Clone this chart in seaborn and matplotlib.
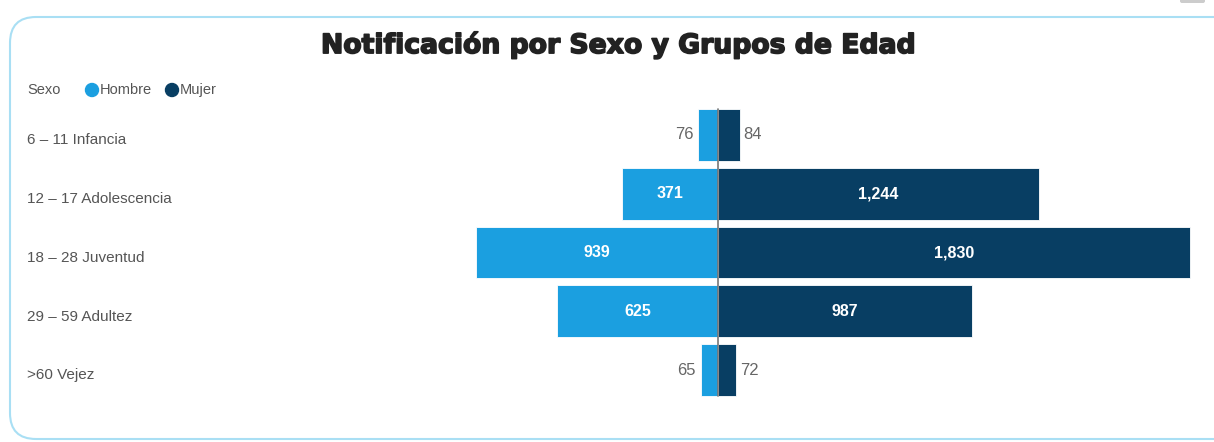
import numpy as np
import matplotlib
matplotlib.use('Agg')
import matplotlib.pyplot as plt
import matplotlib.patches as mpatches
import matplotlib.transforms as mtransforms
import matplotlib.patheffects as pe
import seaborn as sns
import pandas as pd

grupos = ['6 – 11 Infancia', '12 – 17 Adolescencia', '18 – 28 Juventud',
          '29 – 59 Adultez', '>60 Vejez']
hombre = [76, 371, 939, 625, 65]
mujer = [84, 1244, 1830, 987, 72]

c_hombre = '#1b9fe0'
c_mujer = '#083e63'

sns.set_style('white')
plt.rcParams['font.family'] = ['Liberation Sans', 'DejaVu Sans']

df = pd.DataFrame({'grupo': grupos, 'hombre': hombre, 'mujer': mujer})
df['hombre_neg'] = -df['hombre']

fig = plt.figure(figsize=(12.14, 4.42), dpi=100)
ax = fig.add_axes([0.3896, 0.0962, 0.5947, 0.665])

sns.barplot(data=df, x='hombre_neg', y='grupo', color=c_hombre, orient='h',
            width=0.88, ax=ax, edgecolor='white', linewidth=0.6, saturation=1)
sns.barplot(data=df, x='mujer', y='grupo', color=c_mujer, orient='h',
            width=0.88, ax=ax, edgecolor='white', linewidth=0.6, saturation=1)

ax.set_xlim(-950, 1850)
ax.set_ylim(4.5, -0.5)
ax.axvline(0, ymin=(4.5 - 4.44) / 5, ymax=(4.5 + 0.44) / 5, color='#777777', lw=1.2)
ax.axis('off')

# value labels
for i, (h, m) in enumerate(zip(hombre, mujer)):
    if h > 200:
        ax.text(-h / 2, i, f'{h:,}', ha='center', va='center', color='white',
                fontsize=11.5, fontweight='bold')
    else:
        ax.text(-h - 20, i, f'{h:,}', ha='right', va='center', color='#666666',
                fontsize=12)
    if m > 200:
        ax.text(m / 2, i, f'{m:,}', ha='center', va='center', color='white',
                fontsize=11.5, fontweight='bold')
    else:
        ax.text(m + 15, i, f'{m:,}', ha='left', va='center', color='#666666',
                fontsize=12)

# category labels on the left
trans = mtransforms.blended_transform_factory(fig.transFigure, ax.transData)
for i, g in enumerate(grupos):
    ax.text(0.0222, i + 0.09, g, transform=trans, ha='left', va='center',
            color='#555555', fontsize=11)

# title
fig.text(0.509, 0.898, 'Notificación por Sexo y Grupos de Edad', ha='center',
         va='center', fontsize=19.2, fontweight='heavy', color='#222222',
         family='DejaVu Sans',
         path_effects=[pe.withStroke(linewidth=1.2, foreground='#222222')])

# legend
fig.text(0.0222, 0.796, 'Sexo', ha='left', va='center', color='#555555', fontsize=10.5)
fig.patches.append(mpatches.Ellipse((92 / 1214, 1 - 90 / 442), 13 / 1214, 13 / 442,
                                    transform=fig.transFigure, color=c_hombre))
fig.text(100 / 1214, 0.796, 'Hombre', ha='left', va='center', color='#555555', fontsize=10.5)
fig.patches.append(mpatches.Ellipse((172 / 1214, 1 - 90 / 442), 13 / 1214, 13 / 442,
                                    transform=fig.transFigure, color=c_mujer))
fig.text(180 / 1214, 0.796, 'Mujer', ha='left', va='center', color='#555555', fontsize=10.5)

# rounded frame
frame = mpatches.FancyBboxPatch((10, 3), 1230, 422,
                                boxstyle='round,pad=0,rounding_size=26',
                                transform=None, fill=False, edgecolor='#a9dff4', lw=1.5)
fig.patches.append(frame)
fig.patches.append(mpatches.FancyBboxPatch((1180, 439), 25, 5,
                                           boxstyle='round,pad=0,rounding_size=2',
                                           transform=None, facecolor='#cccccc',
                                           edgecolor='none'))

fig.savefig('out.png', dpi=100)
